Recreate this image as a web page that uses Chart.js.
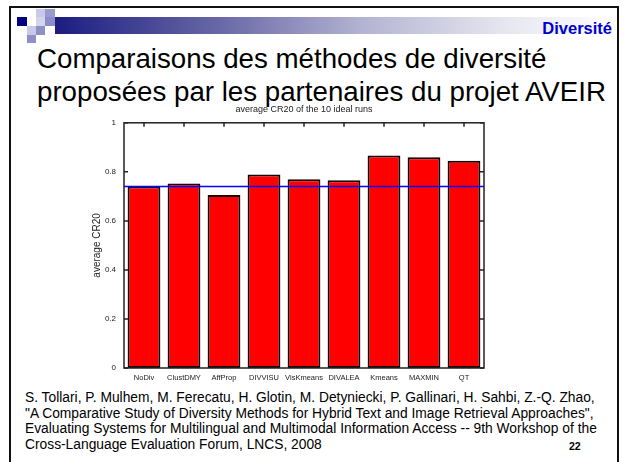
<!DOCTYPE html>
<html>
<head>
<meta charset="utf-8">
<script src="https://cdn.jsdelivr.net/npm/chart.js@4"></script>
<style>
body { margin: 0; width: 622px; height: 462px; overflow: hidden; background: #fff; position: relative;
       font-family: "Liberation Sans", Arial, sans-serif; }
.frame { position: absolute; left: 9px; top: 6px; width: 606px; height: 480px; border: 2px solid #111; }
.sq { position: absolute; }
.bandeau { position: absolute; left: 55px; top: 17px; width: 562px; height: 17px;
           background: linear-gradient(to right, #1c1c80 0%, #6a6aa8 30%, #b4b4d2 55%, #e6e6f0 80%, #fff 100%); }
.rubrique { position: absolute; right: 10px; top: 19px; font-weight: bold; font-size: 16.5px; color: #0000cc; }
.titre { position: absolute; left: 37px; top: 42px; font-size: 27.7px; line-height: 33px; color: #000; white-space: nowrap; }
.ref { position: absolute; left: 25px; top: 390px; font-size: 13.8px; line-height: 15.5px; color: #000; white-space: nowrap; }
.num { position: absolute; left: 569px; top: 440px; font-size: 10.5px; font-weight: bold; }
#box { position: absolute; left: 80px; top: 100px; width: 420px; height: 290px; }
</style>
</head>
<body>
<div class="frame"></div>
<div class="bandeau"></div>
<div class="sq" style="left:17px;top:17px;width:10px;height:9px;background:#000080"></div>
<div class="sq" style="left:36px;top:9px;width:9px;height:8px;background:#c8c8e8"></div>
<div class="sq" style="left:45px;top:9px;width:10px;height:8px;background:#9a9ad0"></div>
<div class="sq" style="left:36px;top:17px;width:9px;height:9px;background:#d4d4ec"></div>
<div class="sq" style="left:45px;top:17px;width:10px;height:9px;background:#8c8cc8"></div>
<div class="sq" style="left:27px;top:26px;width:9px;height:9px;background:#c8c8e8"></div>
<div class="sq" style="left:36px;top:26px;width:9px;height:9px;background:#9090c8"></div>
<div class="sq" style="left:27px;top:35px;width:9px;height:8px;background:#9090c8"></div>
<div class="rubrique">Diversité</div>
<div class="titre">Comparaisons des méthodes de diversité<br>proposées par les partenaires du projet AVEIR</div>

<div id="box"><canvas id="graphe"></canvas></div>

<div class="ref">S. Tollari, P. Mulhem, M. Ferecatu, H. Glotin, M. Detyniecki, P. Gallinari, H. Sahbi, Z.-Q. Zhao,<br>"A Comparative Study of Diversity Methods for Hybrid Text and Image Retrieval Approaches",<br>Evaluating Systems for Multilingual and Multimodal Information Access -- 9th Workshop of the<br>Cross-Language Evaluation Forum, LNCS, 2008</div>
<div class="num">22</div>

<script>
const methodes = ['NoDiv', 'ClustDMY', 'AffProp', 'DIVVISU', 'VisKmeans', 'DIVALEA', 'Kmeans', 'MAXMIN', 'QT'];
const cr20 = [0.740, 0.752, 0.706, 0.789, 0.770, 0.766, 0.867, 0.860, 0.845];
const reference = 0.740; // ligne bleue = NoDiv
const yTicks = [0, 0.2, 0.4, 0.6, 0.8, 1];

// cadre gnuplot : bordure, ticks vers l'interieur, ligne de reference
const cadre = {
    id: 'cadre',
    afterDatasetsDraw(chart) {
        const { ctx, chartArea: a, scales: { x, y } } = chart;
        ctx.save();
        const yr = y.getPixelForValue(reference);
        ctx.strokeStyle = '#0000ff';
        ctx.lineWidth = 1.5;
        ctx.beginPath();
        ctx.moveTo(a.left, yr);
        ctx.lineTo(a.right, yr);
        ctx.stroke();

        ctx.strokeStyle = '#222';
        ctx.lineWidth = 1.5;
        ctx.strokeRect(a.left, a.top, a.right - a.left, a.bottom - a.top);
        ctx.beginPath();
        yTicks.forEach(v => {
            const p = y.getPixelForValue(v);
            ctx.moveTo(a.left, p); ctx.lineTo(a.left + 4, p);
            ctx.moveTo(a.right, p); ctx.lineTo(a.right - 4, p);
        });
        methodes.forEach((m, i) => {
            const p = x.getPixelForValue(i);
            ctx.moveTo(p, a.top); ctx.lineTo(p, a.top + 4);
        });
        ctx.stroke();
        ctx.restore();
    }
};

const ctx = document.getElementById('graphe').getContext('2d');
new Chart(ctx, {
    type: 'bar',
    data: {
        labels: methodes,
        datasets: [{
            data: cr20,
            backgroundColor: '#ff0000',
            borderColor: '#1a0000',
            borderWidth: 2,
            borderSkipped: false,
            barPercentage: 0.82,
            categoryPercentage: 1.0
        }]
    },
    options: {
        responsive: true,
        maintainAspectRatio: false,
        animation: false,
        layout: { padding: { top: 4, right: 16, left: 0, bottom: 0 } },
        plugins: {
            legend: { display: false },
            tooltip: { enabled: false },
            title: {
                display: true,
                fullSize: false,
                text: 'average CR20 of the 10 ideal runs',
                color: '#222',
                font: { family: 'Liberation Sans', size: 9, weight: 'normal' },
                padding: { top: 0, bottom: 8 }
            }
        },
        scales: {
            x: {
                grid: { display: false, drawTicks: false },
                border: { display: false },
                ticks: { color: '#222', padding: 5, maxRotation: 0, autoSkip: false,
                         font: { family: 'Liberation Sans', size: 7.5 } },
                afterFit: s => { s.height = 22; }
            },
            y: {
                min: 0,
                max: 1,
                grid: { display: false, drawTicks: false },
                border: { display: false },
                ticks: { stepSize: 0.2, color: '#222', padding: 8,
                         font: { family: 'Liberation Sans', size: 8 },
                         callback: v => String(+v.toFixed(1)) },
                title: {
                    display: true,
                    text: 'average CR20',
                    color: '#222',
                    font: { family: 'Liberation Sans', size: 10 },
                    padding: { top: 11, bottom: 0 }
                },
                afterFit: s => { s.width = 44; }
            }
        }
    },
    plugins: [cadre]
});
</script>
</body>
</html>
